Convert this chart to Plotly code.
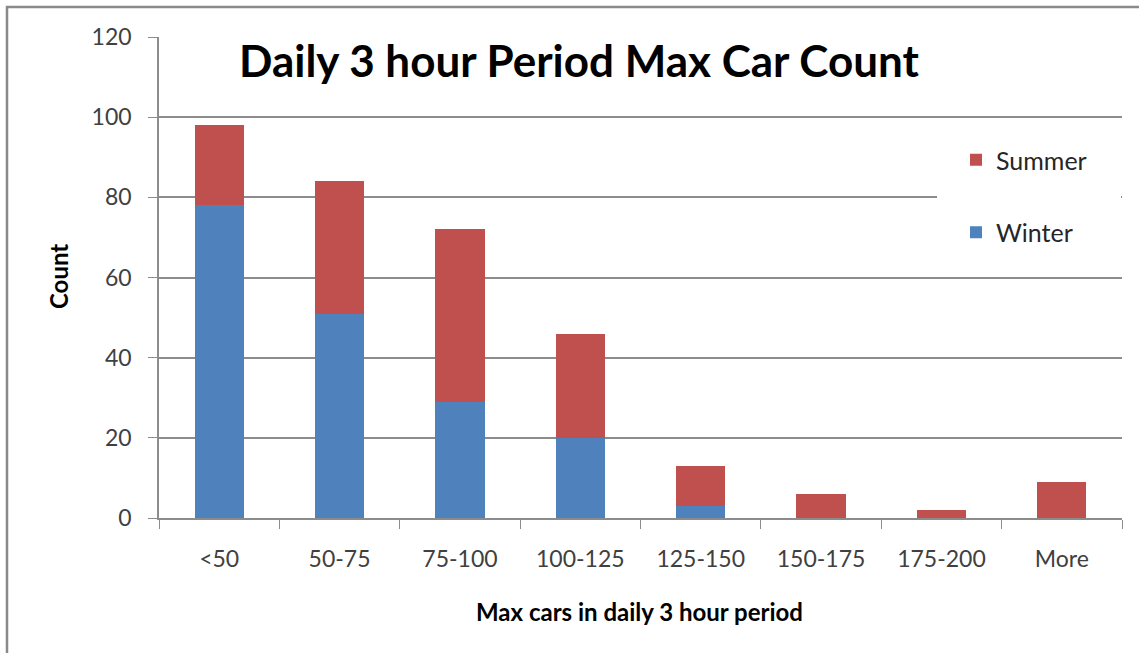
import plotly.graph_objects as go

categories = ["<50", "50-75", "75-100", "100-125", "125-150", "150-175", "175-200", "More"]
winter = [78, 51, 29, 20, 3, 0, 0, 0]
summer = [20, 33, 43, 26, 10, 6, 2, 9]
y_ticks = [0, 20, 40, 60, 80, 100, 120]

W, H = 1139, 653
L, R, T, B = 159, 1122, 37, 518

def px(x):
    return (x - L) / (R - L)

def py(y):
    return (B - y) / (B - T)

fig = go.Figure()
fig.add_trace(go.Bar(x=categories, y=winter, name="Winter", marker=dict(color="#4F81BD", line=dict(width=0)),
                     legendgroup="w", legendrank=2))
fig.add_trace(go.Bar(x=categories, y=summer, name="Summer", marker=dict(color="#C0504D", line=dict(width=0)),
                     legendgroup="s", legendrank=1))

font_family = "Lato, 'Open Sans', sans-serif"
fig.update_layout(
    width=W, height=H,
    barmode="stack", bargap=0.59,
    margin=dict(l=L, r=W - R, t=T, b=H - B, autoexpand=False),
    paper_bgcolor="white", plot_bgcolor="white",
    font=dict(family=font_family, size=22, color="#404040"),
    showlegend=True,
    legend=dict(x=px(956), y=py(137), xanchor="left", yanchor="top",
                bgcolor="rgba(0,0,0,0)", traceorder="grouped", tracegroupgap=37,
                font=dict(size=25, color="#262626")),
    annotations=[
        dict(text="<b>Daily 3 hour Period Max Car Count</b>", x=px(579), y=py(60), xref="paper", yref="paper",
             showarrow=False, font=dict(size=44, color="black", family=font_family), xanchor="center", yanchor="middle"),
        dict(text="<b>Count</b>", x=px(58), y=py(277), xref="paper", yref="paper", textangle=-90,
             showarrow=False, font=dict(size=24, color="black", family=font_family), xanchor="center", yanchor="middle"),
        dict(text="<b>Max cars in daily 3 hour period</b>", x=px(639), y=py(611), xref="paper", yref="paper",
             showarrow=False, font=dict(size=24, color="black", family=font_family), xanchor="center", yanchor="middle"),
    ],
    shapes=[
        dict(type="rect", xref="paper", yref="paper", x0=px(7), x1=px(1160), y0=py(7), y1=py(665),
             line=dict(color="#8a8a8a", width=2.5), fillcolor="rgba(0,0,0,0)", layer="below"),
        dict(type="rect", xref="paper", yref="paper", x0=px(937), x1=px(1121), y0=py(140), y1=py(250),
             line=dict(width=0), fillcolor="white", layer="above"),
    ],
)
fig.update_xaxes(showline=True, linecolor="#8c8c8c", linewidth=1.5, ticks="outside", ticklen=9,
                 tickcolor="#8c8c8c", tickson="boundaries", showgrid=False, ticklabelstandoff=20,
                 tickfont=dict(size=23, color="#404040"))
fig.update_yaxes(range=[0, 120], tickvals=y_ticks, showline=True, linecolor="#8c8c8c", linewidth=1.5,
                 ticks="outside", ticklen=9, tickcolor="#8c8c8c", showgrid=True, gridcolor="#8c8c8c",
                 gridwidth=1.5, zeroline=False, ticklabelstandoff=12, tickfont=dict(size=23, color="#404040"))

fig.write_html("out.html", config={"displayModeBar": False},
               post_script="document.body.style.margin='0';document.body.style.overflow='hidden';")
